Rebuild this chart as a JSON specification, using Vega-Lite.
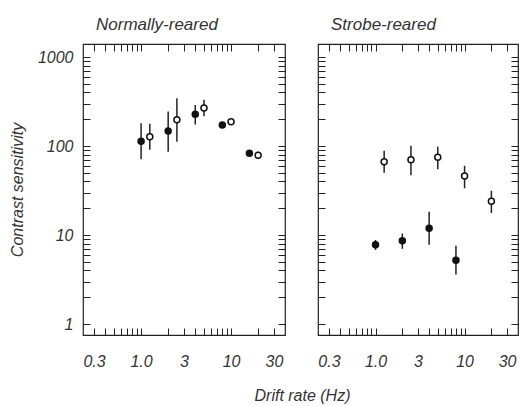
{
  "$schema": "https://vega.github.io/schema/vega-lite/v6.json",
  "padding": {"left": 8, "top": 14, "right": 1, "bottom": 0},
  "config": {
    "font": "Liberation Sans",
    "view": {"stroke": "#222", "strokeWidth": 1.2},
    "axis": {
      "domain": false,
      "grid": false,
      "tickColor": "#222",
      "tickWidth": 1,
      "tickSize": -7,
      "labelFont": "Liberation Sans",
      "labelFontStyle": "italic",
      "labelFontSize": 16,
      "labelColor": "#333",
      "labelOverlap": false,
      "labelFlush": false,
      "titleFont": "Liberation Sans",
      "titleFontStyle": "italic",
      "titleFontWeight": "normal",
      "titleFontSize": 16,
      "titleColor": "#333"
    },
    "title": {"font": "Liberation Sans", "fontStyle": "italic", "fontWeight": "normal", "fontSize": 17, "color": "#333", "anchor": "start", "frame": "group", "dx": 13, "offset": 10}
  },
  "datasets": {
    "pts": [
      {"rearing": "normal", "type": "filled", "rate": 1, "cs": 113, "lo": 71, "hi": 180},
      {"rearing": "normal", "type": "filled", "rate": 2, "cs": 147, "lo": 86, "hi": 245},
      {"rearing": "normal", "type": "filled", "rate": 4, "cs": 227, "lo": 175, "hi": 289},
      {"rearing": "normal", "type": "filled", "rate": 8, "cs": 172, "lo": 162, "hi": 182},
      {"rearing": "normal", "type": "filled", "rate": 16, "cs": 83, "lo": 78, "hi": 89},
      {"rearing": "normal", "type": "open", "rate": 1.25, "cs": 127, "lo": 91, "hi": 178},
      {"rearing": "normal", "type": "open", "rate": 2.5, "cs": 197, "lo": 112, "hi": 344},
      {"rearing": "normal", "type": "open", "rate": 5, "cs": 267, "lo": 216, "hi": 331},
      {"rearing": "normal", "type": "open", "rate": 10, "cs": 187, "lo": 177, "hi": 197},
      {"rearing": "normal", "type": "open", "rate": 20, "cs": 79, "lo": 72, "hi": 86},
      {"rearing": "strobe", "type": "open", "rate": 1.25, "cs": 66.6, "lo": 50, "hi": 88.6},
      {"rearing": "strobe", "type": "open", "rate": 2.5, "cs": 70, "lo": 47, "hi": 101},
      {"rearing": "strobe", "type": "open", "rate": 5, "cs": 75, "lo": 55, "hi": 98},
      {"rearing": "strobe", "type": "open", "rate": 10, "cs": 46, "lo": 33.5, "hi": 60},
      {"rearing": "strobe", "type": "open", "rate": 20, "cs": 24, "lo": 17.7, "hi": 31.5},
      {"rearing": "strobe", "type": "filled", "rate": 1, "cs": 7.8, "lo": 6.8, "hi": 8.8},
      {"rearing": "strobe", "type": "filled", "rate": 2, "cs": 8.6, "lo": 7.0, "hi": 10.4},
      {"rearing": "strobe", "type": "filled", "rate": 4, "cs": 11.9, "lo": 7.8, "hi": 18.3},
      {"rearing": "strobe", "type": "filled", "rate": 8, "cs": 5.2, "lo": 3.6, "hi": 7.6}
    ]
  },
  "bounds": "flush",
  "spacing": 33,
  "hconcat": [
    {
      "width": 202,
      "height": 291,
      "title": {"text": "Normally-reared"},
      "data": {"name": "pts"},
      "transform": [{"filter": "datum.rearing == 'normal'"}],
      "layer": [
        {
          "mark": {"type": "rule", "strokeWidth": 1.5, "color": "#222"},
          "encoding": {
            "x": {"field": "rate", "type": "quantitative",
              "scale": {"type": "log", "domain": [0.226, 39.8], "nice": false},
              "axis": {"orient": "top", "labels": false, "title": null,
                "values": [0.3, 0.4, 0.5, 0.6, 0.7, 0.8, 0.9, 1, 2, 3, 4, 5, 6, 7, 8, 9, 10, 20, 30]}},
            "y": {"field": "lo", "type": "quantitative",
              "scale": {"type": "log", "domain": [0.753, 1400], "nice": false},
              "axis": {"orient": "right", "labels": false, "title": null,
                "values": [1, 2, 3, 4, 5, 6, 7, 8, 9, 10, 20, 30, 40, 50, 60, 70, 80, 90, 100, 200, 300, 400, 500, 600, 700, 800, 900, 1000]}},
            "y2": {"field": "hi"}
          }
        },
        {
          "mark": {"type": "circle", "stroke": "#111", "strokeWidth": 1.5, "opacity": 1, "size": 36},
          "encoding": {
            "x": {"field": "rate", "type": "quantitative",
              "axis": {"orient": "bottom", "labelPadding": 25,
                "values": [0.3, 0.4, 0.5, 0.6, 0.7, 0.8, 0.9, 1, 2, 3, 4, 5, 6, 7, 8, 9, 10, 20, 30],
                "labelExpr": "datum.value == 0.3 ? '0.3' : datum.value == 1 ? '1.0' : datum.value == 3 ? '3' : datum.value == 10 ? '10' : datum.value == 30 ? '30' : ''",
                "title": "Drift rate (Hz)", "titleX": 219, "titleY": 60, "titleAlign": "center", "titleBaseline": "middle"}},
            "y": {"field": "cs", "type": "quantitative",
              "axis": {"orient": "left", "labelPadding": 17,
                "values": [1, 2, 3, 4, 5, 6, 7, 8, 9, 10, 20, 30, 40, 50, 60, 70, 80, 90, 100, 200, 300, 400, 500, 600, 700, 800, 900, 1000],
                "labelExpr": "datum.value == 1 ? '1' : datum.value == 10 ? '10' : datum.value == 100 ? '100' : datum.value == 1000 ? '1000' : ''",
                "title": "Contrast sensitivity", "titlePadding": 12}},
            "fill": {"field": "type", "type": "nominal",
              "scale": {"domain": ["filled", "open"], "range": ["#111", "#ffffff"]}, "legend": null}
          }
        }
      ],
      "resolve": {"axis": {"x": "independent", "y": "independent"}}
    },
    {
      "width": 200,
      "height": 291,
      "title": {"text": "Strobe-reared"},
      "data": {"name": "pts"},
      "transform": [{"filter": "datum.rearing == 'strobe'"}],
      "layer": [
        {
          "mark": {"type": "rule", "strokeWidth": 1.5, "color": "#222"},
          "encoding": {
            "x": {"field": "rate", "type": "quantitative",
              "scale": {"type": "log", "domain": [0.226, 39.8], "nice": false},
              "axis": {"orient": "top", "labels": false, "title": null,
                "values": [0.3, 0.4, 0.5, 0.6, 0.7, 0.8, 0.9, 1, 2, 3, 4, 5, 6, 7, 8, 9, 10, 20, 30]}},
            "y": {"field": "lo", "type": "quantitative",
              "scale": {"type": "log", "domain": [0.753, 1400], "nice": false},
              "axis": {"orient": "right", "labels": false, "title": null,
                "values": [1, 2, 3, 4, 5, 6, 7, 8, 9, 10, 20, 30, 40, 50, 60, 70, 80, 90, 100, 200, 300, 400, 500, 600, 700, 800, 900, 1000]}},
            "y2": {"field": "hi"}
          }
        },
        {
          "mark": {"type": "circle", "stroke": "#111", "strokeWidth": 1.5, "opacity": 1, "size": 36},
          "encoding": {
            "x": {"field": "rate", "type": "quantitative",
              "axis": {"orient": "bottom", "labelPadding": 25,
                "values": [0.3, 0.4, 0.5, 0.6, 0.7, 0.8, 0.9, 1, 2, 3, 4, 5, 6, 7, 8, 9, 10, 20, 30],
                "labelExpr": "datum.value == 0.3 ? '0.3' : datum.value == 1 ? '1.0' : datum.value == 3 ? '3' : datum.value == 10 ? '10' : datum.value == 30 ? '30' : ''",
                "title": null}},
            "y": {"field": "cs", "type": "quantitative",
              "axis": {"orient": "left", "labels": false, "title": null,
                "values": [1, 2, 3, 4, 5, 6, 7, 8, 9, 10, 20, 30, 40, 50, 60, 70, 80, 90, 100, 200, 300, 400, 500, 600, 700, 800, 900, 1000]}},
            "fill": {"field": "type", "type": "nominal",
              "scale": {"domain": ["filled", "open"], "range": ["#111", "#ffffff"]}, "legend": null}
          }
        }
      ],
      "resolve": {"axis": {"x": "independent", "y": "independent"}}
    }
  ]
}
